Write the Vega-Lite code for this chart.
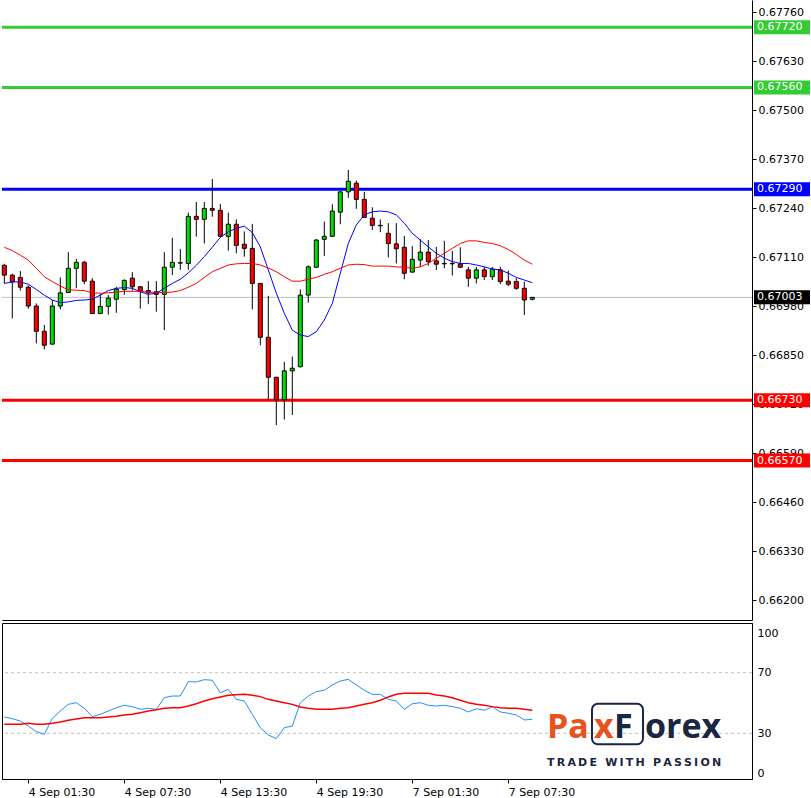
{
  "$schema": "https://vega.github.io/schema/vega-lite/v6.json",
  "padding": 0,
  "background": "white",
  "spacing": 2,
  "config": {
    "view": {"stroke": null},
    "font": "DejaVu Sans",
    "scale": {"continuousPadding": 0},
    "axis": {"labelFont": "DejaVu Sans", "labelFontSize": 11, "labelColor": "#000000", "domainColor": "#000000", "tickColor": "#000000", "grid": false, "title": null}
  },
  "datasets": {
    "c": [
      {"i":0,"o":0.67088,"h":0.67092,"l":0.67040,"c":0.67062,"ma1":0.67040,"ma2":0.67136,"rsi":40.8,"sig":35.9},
      {"i":1,"o":0.67062,"h":0.67066,"l":0.66947,"c":0.67044,"ma1":0.67044,"ma2":0.67127,"rsi":39.6,"sig":35.9},
      {"i":2,"o":0.67056,"h":0.67073,"l":0.67021,"c":0.67030,"ma1":0.67044,"ma2":0.67115,"rsi":38.1,"sig":35.9},
      {"i":3,"o":0.67030,"h":0.67035,"l":0.66973,"c":0.66980,"ma1":0.67038,"ma2":0.67102,"rsi":34.8,"sig":36.6},
      {"i":4,"o":0.66980,"h":0.66987,"l":0.66881,"c":0.66913,"ma1":0.67024,"ma2":0.67080,"rsi":31.1,"sig":35.9},
      {"i":5,"o":0.66913,"h":0.66930,"l":0.66865,"c":0.66876,"ma1":0.67009,"ma2":0.67058,"rsi":29.3,"sig":35.9},
      {"i":6,"o":0.66879,"h":0.66996,"l":0.66878,"c":0.66980,"ma1":0.66996,"ma2":0.67045,"rsi":39.9,"sig":36.6},
      {"i":7,"o":0.66980,"h":0.67056,"l":0.66971,"c":0.67015,"ma1":0.66989,"ma2":0.67033,"rsi":44.7,"sig":37.5},
      {"i":8,"o":0.67016,"h":0.67123,"l":0.67015,"c":0.67080,"ma1":0.66991,"ma2":0.67023,"rsi":49.1,"sig":38.6},
      {"i":9,"o":0.67080,"h":0.67105,"l":0.67027,"c":0.67096,"ma1":0.66995,"ma2":0.67022,"rsi":50.2,"sig":39.4},
      {"i":10,"o":0.67096,"h":0.67100,"l":0.67038,"c":0.67046,"ma1":0.66996,"ma2":0.67021,"rsi":46.5,"sig":40.3},
      {"i":11,"o":0.67046,"h":0.67054,"l":0.66959,"c":0.66960,"ma1":0.66998,"ma2":0.67015,"rsi":41.0,"sig":40.3},
      {"i":12,"o":0.66960,"h":0.67012,"l":0.66959,"c":0.66979,"ma1":0.67009,"ma2":0.67014,"rsi":42.5,"sig":40.3},
      {"i":13,"o":0.66979,"h":0.67009,"l":0.66957,"c":0.67001,"ma1":0.67021,"ma2":0.67015,"rsi":44.7,"sig":40.8},
      {"i":14,"o":0.66998,"h":0.67031,"l":0.66962,"c":0.67025,"ma1":0.67027,"ma2":0.67017,"rsi":46.9,"sig":41.2},
      {"i":15,"o":0.67024,"h":0.67051,"l":0.67010,"c":0.67048,"ma1":0.67029,"ma2":0.67019,"rsi":48.5,"sig":42.1},
      {"i":16,"o":0.67054,"h":0.67070,"l":0.67021,"c":0.67031,"ma1":0.67027,"ma2":0.67019,"rsi":47.6,"sig":42.5},
      {"i":17,"o":0.67031,"h":0.67033,"l":0.66973,"c":0.67020,"ma1":0.67018,"ma2":0.67019,"rsi":45.8,"sig":43.6},
      {"i":18,"o":0.67021,"h":0.67046,"l":0.66985,"c":0.67015,"ma1":0.67011,"ma2":0.67017,"rsi":46.5,"sig":44.7},
      {"i":19,"o":0.67018,"h":0.67046,"l":0.66965,"c":0.67011,"ma1":0.67014,"ma2":0.67016,"rsi":45.8,"sig":45.6},
      {"i":20,"o":0.67011,"h":0.67123,"l":0.66916,"c":0.67083,"ma1":0.67027,"ma2":0.67016,"rsi":53.5,"sig":46.5},
      {"i":21,"o":0.67083,"h":0.67161,"l":0.67062,"c":0.67096,"ma1":0.67040,"ma2":0.67017,"rsi":54.6,"sig":46.9},
      {"i":22,"o":0.67094,"h":0.67131,"l":0.67076,"c":0.67095,"ma1":0.67051,"ma2":0.67021,"rsi":54.6,"sig":46.9},
      {"i":23,"o":0.67093,"h":0.67228,"l":0.67076,"c":0.67218,"ma1":0.67068,"ma2":0.67030,"rsi":64.1,"sig":48.0},
      {"i":24,"o":0.67218,"h":0.67256,"l":0.67164,"c":0.67210,"ma1":0.67088,"ma2":0.67040,"rsi":63.9,"sig":49.5},
      {"i":25,"o":0.67210,"h":0.67256,"l":0.67146,"c":0.67239,"ma1":0.67111,"ma2":0.67056,"rsi":65.4,"sig":51.3},
      {"i":26,"o":0.67239,"h":0.67317,"l":0.67217,"c":0.67234,"ma1":0.67136,"ma2":0.67071,"rsi":65.0,"sig":52.8},
      {"i":27,"o":0.67234,"h":0.67251,"l":0.67164,"c":0.67165,"ma1":0.67162,"ma2":0.67080,"rsi":56.8,"sig":54.0},
      {"i":28,"o":0.67165,"h":0.67228,"l":0.67127,"c":0.67197,"ma1":0.67177,"ma2":0.67089,"rsi":59.0,"sig":55.1},
      {"i":29,"o":0.67197,"h":0.67210,"l":0.67120,"c":0.67141,"ma1":0.67186,"ma2":0.67092,"rsi":52.4,"sig":55.5},
      {"i":30,"o":0.67144,"h":0.67178,"l":0.67111,"c":0.67133,"ma1":0.67192,"ma2":0.67093,"rsi":51.3,"sig":55.7},
      {"i":31,"o":0.67133,"h":0.67198,"l":0.66971,"c":0.67040,"ma1":0.67175,"ma2":0.67093,"rsi":42.5,"sig":55.1},
      {"i":32,"o":0.67040,"h":0.67041,"l":0.66876,"c":0.66897,"ma1":0.67137,"ma2":0.67089,"rsi":33.7,"sig":54.2},
      {"i":33,"o":0.66897,"h":0.67007,"l":0.66731,"c":0.66791,"ma1":0.67076,"ma2":0.67081,"rsi":28.9,"sig":52.4},
      {"i":34,"o":0.66791,"h":0.66792,"l":0.66664,"c":0.66731,"ma1":0.67014,"ma2":0.67071,"rsi":26.5,"sig":51.3},
      {"i":35,"o":0.66731,"h":0.66832,"l":0.66679,"c":0.66808,"ma1":0.66961,"ma2":0.67058,"rsi":33.7,"sig":50.2},
      {"i":36,"o":0.66808,"h":0.66846,"l":0.66691,"c":0.66815,"ma1":0.66916,"ma2":0.67046,"rsi":34.8,"sig":49.1},
      {"i":37,"o":0.66819,"h":0.67024,"l":0.66817,"c":0.67009,"ma1":0.66903,"ma2":0.67046,"rsi":50.2,"sig":47.4},
      {"i":38,"o":0.67009,"h":0.67088,"l":0.66989,"c":0.67084,"ma1":0.66899,"ma2":0.67051,"rsi":54.6,"sig":46.5},
      {"i":39,"o":0.67083,"h":0.67158,"l":0.67082,"c":0.67155,"ma1":0.66912,"ma2":0.67056,"rsi":57.5,"sig":45.8},
      {"i":40,"o":0.67157,"h":0.67204,"l":0.67113,"c":0.67165,"ma1":0.66943,"ma2":0.67064,"rsi":58.4,"sig":45.8},
      {"i":41,"o":0.67165,"h":0.67250,"l":0.67164,"c":0.67232,"ma1":0.66987,"ma2":0.67071,"rsi":61.9,"sig":45.8},
      {"i":42,"o":0.67229,"h":0.67284,"l":0.67197,"c":0.67283,"ma1":0.67067,"ma2":0.67080,"rsi":64.5,"sig":46.5},
      {"i":43,"o":0.67283,"h":0.67341,"l":0.67267,"c":0.67311,"ma1":0.67146,"ma2":0.67089,"rsi":65.6,"sig":46.9},
      {"i":44,"o":0.67306,"h":0.67313,"l":0.67238,"c":0.67263,"ma1":0.67195,"ma2":0.67091,"rsi":61.9,"sig":48.0},
      {"i":45,"o":0.67263,"h":0.67283,"l":0.67214,"c":0.67215,"ma1":0.67222,"ma2":0.67090,"rsi":58.4,"sig":49.1},
      {"i":46,"o":0.67213,"h":0.67242,"l":0.67182,"c":0.67194,"ma1":0.67230,"ma2":0.67086,"rsi":55.7,"sig":50.2},
      {"i":47,"o":0.67194,"h":0.67210,"l":0.67176,"c":0.67193,"ma1":0.67232,"ma2":0.67086,"rsi":55.7,"sig":51.8},
      {"i":48,"o":0.67173,"h":0.67200,"l":0.67109,"c":0.67146,"ma1":0.67230,"ma2":0.67086,"rsi":52.4,"sig":54.0},
      {"i":49,"o":0.67145,"h":0.67200,"l":0.67093,"c":0.67132,"ma1":0.67222,"ma2":0.67084,"rsi":51.3,"sig":55.7},
      {"i":50,"o":0.67136,"h":0.67166,"l":0.67051,"c":0.67067,"ma1":0.67200,"ma2":0.67083,"rsi":45.8,"sig":56.4},
      {"i":51,"o":0.67070,"h":0.67139,"l":0.67069,"c":0.67104,"ma1":0.67173,"ma2":0.67080,"rsi":49.5,"sig":56.4},
      {"i":52,"o":0.67102,"h":0.67157,"l":0.67084,"c":0.67123,"ma1":0.67155,"ma2":0.67084,"rsi":50.2,"sig":56.4},
      {"i":53,"o":0.67123,"h":0.67155,"l":0.67087,"c":0.67098,"ma1":0.67137,"ma2":0.67093,"rsi":48.5,"sig":56.4},
      {"i":54,"o":0.67100,"h":0.67137,"l":0.67076,"c":0.67091,"ma1":0.67120,"ma2":0.67107,"rsi":48.0,"sig":55.3},
      {"i":55,"o":0.67093,"h":0.67153,"l":0.67080,"c":0.67092,"ma1":0.67107,"ma2":0.67120,"rsi":48.5,"sig":54.6},
      {"i":56,"o":0.67093,"h":0.67126,"l":0.67061,"c":0.67092,"ma1":0.67098,"ma2":0.67133,"rsi":47.6,"sig":53.5},
      {"i":57,"o":0.67092,"h":0.67136,"l":0.67082,"c":0.67083,"ma1":0.67093,"ma2":0.67146,"rsi":46.5,"sig":51.8},
      {"i":58,"o":0.67076,"h":0.67084,"l":0.67031,"c":0.67054,"ma1":0.67093,"ma2":0.67153,"rsi":44.1,"sig":50.2},
      {"i":59,"o":0.67054,"h":0.67084,"l":0.67040,"c":0.67076,"ma1":0.67089,"ma2":0.67153,"rsi":46.2,"sig":49.1},
      {"i":60,"o":0.67076,"h":0.67084,"l":0.67049,"c":0.67058,"ma1":0.67084,"ma2":0.67149,"rsi":45.2,"sig":48.5},
      {"i":61,"o":0.67058,"h":0.67084,"l":0.67049,"c":0.67078,"ma1":0.67078,"ma2":0.67146,"rsi":47.4,"sig":47.6},
      {"i":62,"o":0.67076,"h":0.67084,"l":0.67038,"c":0.67045,"ma1":0.67076,"ma2":0.67140,"rsi":44.1,"sig":46.9},
      {"i":63,"o":0.67046,"h":0.67074,"l":0.67033,"c":0.67038,"ma1":0.67067,"ma2":0.67130,"rsi":43.2,"sig":46.5},
      {"i":64,"o":0.67045,"h":0.67054,"l":0.67023,"c":0.67027,"ma1":0.67056,"ma2":0.67117,"rsi":42.1,"sig":46.5},
      {"i":65,"o":0.67027,"h":0.67045,"l":0.66956,"c":0.66996,"ma1":0.67049,"ma2":0.67102,"rsi":38.8,"sig":45.8},
      {"i":66,"o":0.66998,"h":0.67004,"l":0.66995,"c":0.67003,"ma1":0.67042,"ma2":0.67091,"rsi":39.2,"sig":45.2}
    ],
    "lv": [
      {"v":0.6772,"kind":"res"},
      {"v":0.6756,"kind":"res"},
      {"v":0.6729,"kind":"piv"},
      {"v":0.6673,"kind":"sup"},
      {"v":0.6657,"kind":"sup"},
      {"v":0.67003,"kind":"cur"}
    ],
    "rl": [{"lv":70},{"lv":30}],
    "one": [{}]
  },
  "vconcat": [
    {
      "width": 750,
      "height": 620,
      "layer": [
        {
          "data": {"name": "lv"},
          "transform": [{"filter": "datum.kind !== 'cur'"}],
          "mark": {"type": "rule", "strokeWidth": 3},
          "encoding": {
            "y": {"field": "v", "type": "quantitative", "scale": {"domain": [0.66147, 0.67792], "nice": false, "zero": false, "padding": 0},
                  "axis": {"orient": "right", "values": [0.662,0.6633,0.6646,0.6659,0.6672,0.6685,0.6698,0.6711,0.6724,0.6737,0.675,0.6763,0.6776], "format": ".5f", "tickSize": 4, "labelPadding": 2, "title": null}},
            "color": {"field": "kind", "type": "nominal", "scale": {"domain": ["res","piv","sup","cur"], "range": ["#33cc33","#0000ff","#ff0000","#000000"]}, "legend": null}
          }
        },
        {
          "data": {"name": "lv"},
          "transform": [{"filter": "datum.kind === 'cur'"}],
          "mark": {"type": "rule", "strokeWidth": 1, "color": "#c0c0c0"},
          "encoding": {"y": {"field": "v", "type": "quantitative"}}
        },
        {
          "data": {"name": "c"},
          "mark": {"type": "rule", "color": "#000000", "strokeWidth": 1},
          "encoding": {
            "x": {"field": "i", "type": "quantitative", "scale": {"domain": [-0.2875, 93.4625], "nice": false, "zero": false, "padding": 0},
                  "axis": {"orient": "bottom", "labels": false, "ticks": false, "domain": true, "title": null}},
            "y": {"field": "l", "type": "quantitative"},
            "y2": {"field": "h"}
          }
        },
        {
          "data": {"name": "c"},
          "mark": {"type": "bar", "size": 4, "stroke": "#000000", "strokeWidth": 1},
          "encoding": {
            "x": {"field": "i", "type": "quantitative"},
            "y": {"field": "o", "type": "quantitative"},
            "y2": {"field": "c"},
            "fill": {"condition": {"test": "datum.c >= datum.o", "value": "#00e000"}, "value": "#ff0000"}
          }
        },
        {
          "data": {"name": "c"},
          "mark": {"type": "line", "color": "#0000ff", "strokeWidth": 1, "clip": true},
          "encoding": {"x": {"field": "i", "type": "quantitative"}, "y": {"field": "ma1", "type": "quantitative"}}
        },
        {
          "data": {"name": "c"},
          "mark": {"type": "line", "color": "#ff0000", "strokeWidth": 1, "clip": true},
          "encoding": {"x": {"field": "i", "type": "quantitative"}, "y": {"field": "ma2", "type": "quantitative"}}
        },
        {
          "data": {"name": "lv"},
          "mark": {"type": "bar", "size": 14, "clip": false},
          "encoding": {
            "x": {"datum": 93.7125, "type": "quantitative"},
            "x2": {"datum": 100.7125},
            "y": {"field": "v", "type": "quantitative"},
            "color": {"field": "kind", "type": "nominal", "legend": null}
          }
        },
        {
          "data": {"name": "lv"},
          "mark": {"type": "text", "align": "left", "baseline": "middle", "color": "#ffffff", "fontSize": 11, "font": "DejaVu Sans", "clip": false},
          "encoding": {
            "x": {"datum": 94.0875, "type": "quantitative"},
            "y": {"field": "v", "type": "quantitative"},
            "text": {"field": "v", "type": "quantitative", "format": ".5f"}
          }
        }
      ]
    },
    {
      "width": 750,
      "height": 156,
      "view": {"stroke": "#000000", "strokeWidth": 1},
      "layer": [
        {
          "data": {"name": "rl"},
          "mark": {"type": "rule", "color": "#c0c0c0", "strokeWidth": 1, "strokeDash": [3, 3]},
          "encoding": {
            "y": {"field": "lv", "type": "quantitative", "scale": {"domain": [-0.17, 102.8], "nice": false, "zero": false, "padding": 0},
                  "axis": {"orient": "right", "values": [0, 30, 70, 100], "ticks": false, "labelPadding": 5, "title": null,
                           "labelBaseline": {"condition": [{"test": "datum.value === 100", "value": "top"}, {"test": "datum.value === 0", "value": "bottom"}], "value": "middle"}}}
          }
        },
        {
          "data": {"name": "c"},
          "mark": {"type": "line", "color": "#1e90ff", "strokeWidth": 1},
          "encoding": {
            "x": {"field": "i", "type": "quantitative", "scale": {"domain": [-0.2875, 93.4625], "nice": false, "zero": false, "padding": 0},
                  "axis": {"orient": "bottom", "values": [3, 15, 27, 39, 51, 63], "labelExpr": "['4 Sep 01:30','4 Sep 07:30','4 Sep 13:30','4 Sep 19:30','7 Sep 01:30','7 Sep 07:30'][(datum.value - 3) / 12]", "labelAlign": "left", "tickSize": 4, "labelPadding": 3, "title": null}},
            "y": {"field": "rsi", "type": "quantitative"}
          }
        },
        {
          "data": {"name": "c"},
          "mark": {"type": "line", "color": "#ff0000", "strokeWidth": 1.5},
          "encoding": {"x": {"field": "i", "type": "quantitative"}, "y": {"field": "sig", "type": "quantitative"}}
        },
        {
          "data": {"name": "one"},
          "mark": {"type": "rect", "fill": "#ffffff", "fillOpacity": 0, "stroke": "#1b2640", "strokeWidth": 2, "cornerRadius": 6},
          "encoding": {"x": {"datum": 73.46, "type": "quantitative"}, "x2": {"datum": 79.84}, "y": {"datum": 49.5, "type": "quantitative"}, "y2": {"datum": 22.7}}
        },
        {
          "data": {"name": "one"},
          "mark": {"type": "text", "text": "Pa", "align": "left", "baseline": "alphabetic", "font": "Open Sans", "fontWeight": "bold", "fontSize": 34, "color": "#e8521c"},
          "encoding": {"x": {"datum": 67.84, "type": "quantitative"}, "y": {"datum": 26.9, "type": "quantitative"}}
        },
        {
          "data": {"name": "one"},
          "mark": {"type": "text", "text": "x", "align": "left", "baseline": "alphabetic", "font": "Open Sans", "fontWeight": "bold", "fontSize": 34, "color": "#e8521c"},
          "encoding": {"x": {"datum": 73.71, "type": "quantitative"}, "y": {"datum": 26.9, "type": "quantitative"}}
        },
        {
          "data": {"name": "one"},
          "mark": {"type": "text", "text": "F", "align": "left", "baseline": "alphabetic", "font": "Open Sans", "fontWeight": "bold", "fontSize": 34, "color": "#1b2640"},
          "encoding": {"x": {"datum": 76.21, "type": "quantitative"}, "y": {"datum": 26.9, "type": "quantitative"}}
        },
        {
          "data": {"name": "one"},
          "mark": {"type": "text", "text": "orex", "align": "left", "baseline": "alphabetic", "font": "Open Sans", "fontWeight": "bold", "fontSize": 34, "color": "#1b2640"},
          "encoding": {"x": {"datum": 80.09, "type": "quantitative"}, "y": {"datum": 26.9, "type": "quantitative"}}
        },
        {
          "data": {"name": "one"},
          "mark": {"type": "text", "text": "T\u2009R\u2009A\u2009D\u2009E\u2009 \u2009W\u2009I\u2009T\u2009H\u2009 \u2009P\u2009A\u2009S\u2009S\u2009I\u2009O\u2009N", "align": "left", "baseline": "middle", "font": "DejaVu Sans", "fontWeight": "bold", "fontSize": 11, "color": "#1b2640"},
          "encoding": {"x": {"datum": 67.84, "type": "quantitative"}, "y": {"datum": 10.4, "type": "quantitative"}}
        }
      ]
    }
  ]
}
